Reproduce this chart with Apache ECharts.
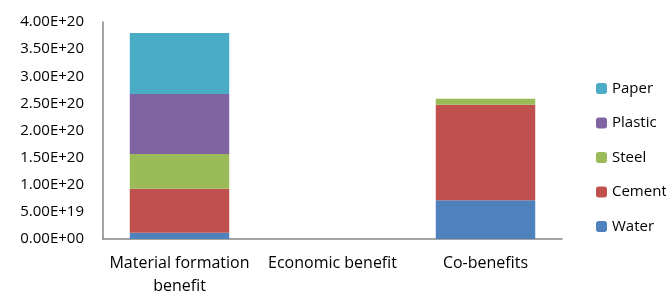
<!DOCTYPE html>
<html>
<head>
<meta charset="utf-8">
<script src="https://cdn.jsdelivr.net/npm/echarts@6/dist/echarts.min.js"></script>
<style>
  html, body { margin: 0; padding: 0; background: #fff; }
  #chart { width: 666px; height: 298px; }
</style>
</head>
<body>
<div id="chart"></div>
<script>
// data
const categories = ["Material formation\nbenefit", "Economic benefit", "Co-benefits"];
const water   = [1.16e19, 0, 7.13e19];
const cement  = [8.1e19, 0, 1.763e20];
const steel   = [6.4e19, 0, 1.1e19];
const plastic = [1.106e20, 0, 0];
const paper   = [1.124e20, 0, 0];
const legendOrder = ["Paper", "Plastic", "Steel", "Cement", "Water"];

const chart = echarts.init(document.getElementById("chart"));
const font = "Open Sans";

// Excel-style scientific tick labels, e.g. 5.00E+19
function sci(v) {
  if (v === 0) return "0.00E+00";
  const parts = v.toExponential(2).split("e");
  let exp = parseInt(parts[1], 10);
  const sign = exp < 0 ? "-" : "+";
  exp = Math.abs(exp);
  return parts[0] + "E" + sign + (exp < 10 ? "0" + exp : exp);
}

function bar(name, data, color) {
  return {
    name: name,
    type: "bar",
    stack: "total",
    barWidth: "65%",
    data: data,
    itemStyle: { color: color }
  };
}

const option = {
  animation: false,
  grid: { left: 103, right: 104, top: 22, bottom: 59 },
  legend: {
    orient: "vertical",
    left: 591,
    top: 76,
    itemWidth: 11,
    itemHeight: 11,
    itemGap: 19.5,
    data: legendOrder,
    textStyle: { fontFamily: font, fontSize: 15, color: "#000" }
  },
  xAxis: {
    type: "category",
    data: categories,
    axisLine: { lineStyle: { color: "#868686", width: 1.5 } },
    axisTick: { show: false },
    axisLabel: { interval: 0, fontFamily: font, fontSize: 16, color: "#000", lineHeight: 23, margin: 13 }
  },
  yAxis: {
    type: "value",
    min: 0,
    max: 4e20,
    interval: 5e19,
    axisLine: { show: true, lineStyle: { color: "#868686", width: 1.5 } },
    axisTick: { show: false },
    splitLine: { show: false },
    axisLabel: { fontFamily: font, fontSize: 15, color: "#000", margin: 19, formatter: sci }
  },
  series: [
    bar("Water", water, "#4f81bd"),
    bar("Cement", cement, "#c0504d"),
    bar("Steel", steel, "#9bbb59"),
    bar("Plastic", plastic, "#8064a2"),
    bar("Paper", paper, "#4bacc6")
  ]
};

chart.setOption(option);
window.addEventListener("resize", () => chart.resize());
</script>
</body>
</html>
